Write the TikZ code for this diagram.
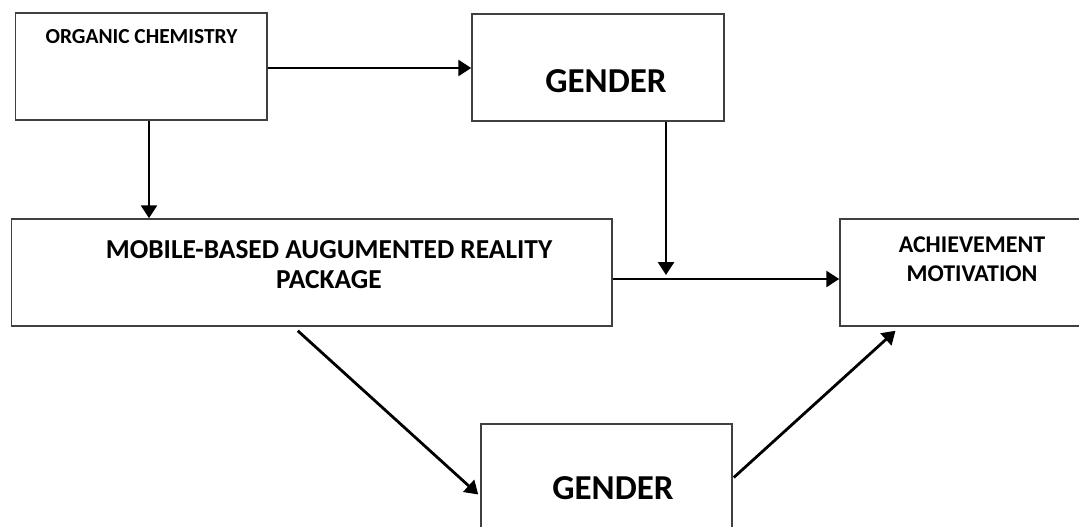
\documentclass[tikz,border=0pt]{standalone}
\usepackage{fontspec}
\setmainfont{Carlito}
\usetikzlibrary{arrows.meta}
\begin{document}
\begin{tikzpicture}[x=1pt,y=-1pt,
  box/.style={draw=black!75, line width=1.5pt, minimum height=107pt, inner sep=0pt},
  lbl/.style={font=\bfseries, align=center, inner sep=0pt},
  arr/.style={line width=2.8pt, -{Triangle[length=13pt,width=16pt]}}]
\useasboundingbox (0,0) rectangle (1079,527);
\node[box, minimum width=251.5pt] (oc) at (141.25,66.5) {};
\node[lbl, font=\fontsize{21.4}{25}\selectfont\bfseries] (oct) at (141.5,37) {ORGANIC CHEMISTRY};
\node[box, minimum width=252pt] (gt) at (598,67.5) {};
\node[lbl, font=\fontsize{35}{40}\selectfont\bfseries] (gtt) at (606,81) {GENDER};
\node[box, minimum width=600.5pt] (mb) at (311.75,272.5) {};
\node[lbl, font=\fontsize{27.4}{30}\selectfont\bfseries] (mbt) at (329,265) {MOBILE-BASED AUGUMENTED REALITY\\PACKAGE};
\node[box, minimum width=243pt] (ach) at (961.5,272.5) {};
\node[lbl, font=\fontsize{24}{29}\selectfont\bfseries] (acht) at (972,259) {ACHIEVEMENT\\MOTIVATION};
\node[box, minimum width=251pt] (gb) at (606.5,477.5) {};
\node[lbl, font=\fontsize{35}{40}\selectfont\bfseries] (gbt) at (613,488) {GENDER};
\coordinate (j) at (666,275);
\draw[arr] (oc.east |- 0,68) -- (gt.west |- 0,68);
\draw[arr] (oc.south -| 149,0) -- (mb.north -| 149,0);
\draw[arr] (gt.south -| 666,0) -- (j);
\draw[arr] (mb.east |- 0,279) -- (ach.west |- 0,279);
\draw[arr] ([shift={(-14,4)}]mb.south) -- ([shift={(-2,17)}]gb.west);
\draw[arr] ([shift={(1,0)}]gb.east) -- ([shift={(-66,4)}]ach.south);
\end{tikzpicture}
\end{document}
